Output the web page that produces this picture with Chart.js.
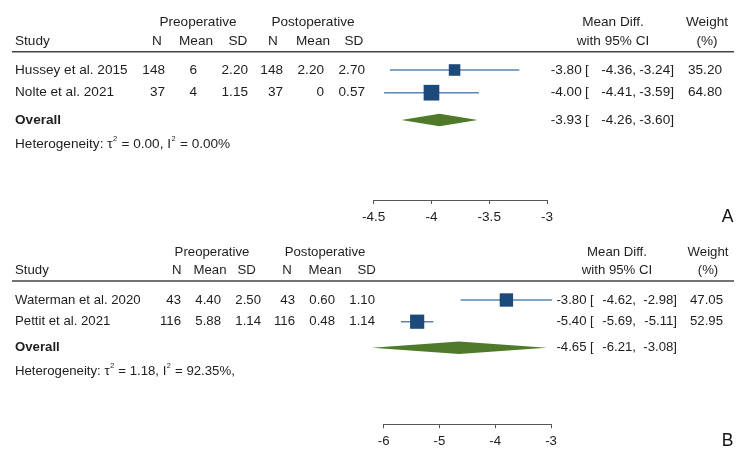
<!DOCTYPE html>
<html>
<head>
<meta charset="utf-8">
<script src="https://cdn.jsdelivr.net/npm/chart.js@4/dist/chart.umd.min.js"></script>
<style>
html,body{margin:0;padding:0;background:#fff;}
body{width:750px;height:464px;position:relative;overflow:hidden;}
canvas{position:absolute;left:0;}
</style>
</head>
<body>
<canvas id="cA" width="750" height="232" style="top:0"></canvas>
<canvas id="cB" width="750" height="232" style="top:232px"></canvas>
<script>
// ---------- Panel A data ----------
const studiesA = ["Hussey et al. 2015", "Nolte et al. 2021"];
const preNA = [148, 37];
const preMeanA = [6, 4];
const preSDA = [2.20, 1.15];
const postNA = [148, 37];
const postMeanA = [2.20, 0];
const postSDA = [2.70, 0.57];
const mdA = [-3.80, -4.00];
const loA = [-4.36, -4.41];
const hiA = [-3.24, -3.59];
const weightA = [35.20, 64.80];
const overallA = [-3.93, -4.26, -3.60]; // estimate, lower, upper
const tau2A = 0.00;
const i2A = 0.00;
const ticksA = [-4.5, -4, -3.5, -3];

// ---------- Panel B data ----------
const studiesB = ["Waterman et al. 2020", "Pettit et al. 2021"];
const preNB = [43, 116];
const preMeanB = [4.40, 5.88];
const preSDB = [2.50, 1.14];
const postNB = [43, 116];
const postMeanB = [0.60, 0.48];
const postSDB = [1.10, 1.14];
const mdB = [-3.80, -5.40];
const loB = [-4.62, -5.69];
const hiB = [-2.98, -5.11];
const weightB = [47.05, 52.95];
const overallB = [-4.65, -6.21, -3.08];
const tau2B = 1.18;
const i2B = 92.35;
const ticksB = [-6, -5, -4, -3];

// ---------- layout (pixels, styles) ----------
const FAMILY = "'Liberation Sans', Arial, sans-serif";
const TEXT = '#1e1e1e';
const SQUARE = '#1c4a7a';
const CILINE = '#5a86b3';
const DIAMOND = '#4e7a2a';
const AXIS_H = 24;

const layoutA = {
  font: 13.6, padTop: 47.3, padBottom: 8, axL: 373.7, axR: 547, yMax: 6.727,
  hdr1: 22.7, hdr2: 41.7, rule: 51.7, hetSuffix: '',
  study: 15,
  preN: [157, 165], preMean: [196, 197], preSD: [238, 248],
  postN: [273, 283], postMean: [313, 324], postSD: [354, 365],
  preHdr: 198, postHdr: 313,
  estR: 581.7, brL: 585, loR: 636, hiR: 674, mdHdr: 613,
  wR: 722, wHdr: 707,
  label: 'A', labelX: 727.5, labelY: 216.7
};
const layoutB = {
  font: 13.2, padTop: 46.3, padBottom: 15.7, axL: 383.7, axR: 551, yMax: 6.73,
  hdr1: 20.7, hdr2: 38.7, rule: 49, hetSuffix: ',',
  study: 15,
  preN: [176.7, 181], preMean: [210, 221], preSD: [246.7, 261],
  postN: [287, 295], postMean: [325, 335], postSD: [366.7, 375],
  preHdr: 212, postHdr: 325,
  estR: 586.5, brL: 590, loR: 636, hiR: 677, mdHdr: 617,
  wR: 723, wHdr: 708,
  label: 'B', labelX: 727.5, labelY: 209
};
const ROWS = [1, 2];
const OVERALL_ROW = 3.2;
const HET_ROW = 4.28;

function fmtVal(v) { return Number.isInteger(v) ? String(v) : v.toFixed(2); }

function makePanel(canvasId, L, d) {
  const squareData = d.md.map((m, i) => ({x: m, y: ROWS[i]}));
  const datasets = [{
    label: 'squares',
    data: squareData,
    pointStyle: 'rect',
    pointRadius: d.weight.map(w => 1.95 * Math.sqrt(w) / Math.SQRT2),
    pointBackgroundColor: SQUARE,
    pointBorderColor: SQUARE,
    pointBorderWidth: 0,
    showLine: false,
    clip: false
  }];
  d.lo.forEach((lo, i) => {
    datasets.push({
      label: 'ci' + i,
      data: [{x: lo, y: ROWS[i]}, {x: d.hi[i], y: ROWS[i]}],
      showLine: true,
      borderColor: CILINE,
      borderWidth: 1.4,
      pointRadius: 0,
      clip: false
    });
  });

  const textPlugin = {
    id: 'forestText',
    afterDatasetsDraw(chart) {
      const ctx = chart.ctx;
      const xs = chart.scales.x, ys = chart.scales.y;
      // overall diamond
      const yc = ys.getPixelForValue(OVERALL_ROW);
      ctx.save();
      ctx.fillStyle = DIAMOND;
      ctx.beginPath();
      ctx.moveTo(xs.getPixelForValue(d.overall[1]), yc);
      ctx.lineTo(xs.getPixelForValue(d.overall[0]), yc - 6.2);
      ctx.lineTo(xs.getPixelForValue(d.overall[2]), yc);
      ctx.lineTo(xs.getPixelForValue(d.overall[0]), yc + 6.2);
      ctx.closePath();
      ctx.fill();
      ctx.restore();
    },
    afterDraw(chart) {
      const ctx = chart.ctx;
      const ys = chart.scales.y;
      const f = L.font;
      const norm = f + 'px ' + FAMILY;
      ctx.save();
      ctx.fillStyle = TEXT;
      ctx.textBaseline = 'middle';
      ctx.font = norm;
      function t(s, x, y, align) { ctx.textAlign = align; ctx.fillText(s, x, y); }
      // header
      t('Preoperative', L.preHdr, L.hdr1, 'center');
      t('Postoperative', L.postHdr, L.hdr1, 'center');
      t('Mean Diff.', L.mdHdr, L.hdr1, 'center');
      t('Weight', L.wHdr, L.hdr1, 'center');
      t('Study', L.study, L.hdr2, 'left');
      t('N', L.preN[0], L.hdr2, 'center');
      t('Mean', L.preMean[0], L.hdr2, 'center');
      t('SD', L.preSD[0], L.hdr2, 'center');
      t('N', L.postN[0], L.hdr2, 'center');
      t('Mean', L.postMean[0], L.hdr2, 'center');
      t('SD', L.postSD[0], L.hdr2, 'center');
      t('with 95% CI', L.mdHdr, L.hdr2, 'center');
      t('(%)', L.wHdr, L.hdr2, 'center');
      // rule
      ctx.strokeStyle = '#444';
      ctx.lineWidth = 1.5;
      ctx.beginPath();
      ctx.moveTo(12, L.rule);
      ctx.lineTo(734, L.rule);
      ctx.stroke();
      // study rows
      d.studies.forEach((s, i) => {
        const y = ys.getPixelForValue(ROWS[i]);
        t(s, L.study, y, 'left');
        t(String(d.preN[i]), L.preN[1], y, 'right');
        t(fmtVal(d.preMean[i]), L.preMean[1], y, 'right');
        t(d.preSD[i].toFixed(2), L.preSD[1], y, 'right');
        t(String(d.postN[i]), L.postN[1], y, 'right');
        t(fmtVal(d.postMean[i]), L.postMean[1], y, 'right');
        t(d.postSD[i].toFixed(2), L.postSD[1], y, 'right');
        t(d.md[i].toFixed(2), L.estR, y, 'right');
        t('[', L.brL, y, 'left');
        t(d.lo[i].toFixed(2) + ',', L.loR, y, 'right');
        t(d.hi[i].toFixed(2) + ']', L.hiR, y, 'right');
        t(d.weight[i].toFixed(2), L.wR, y, 'right');
      });
      // overall row
      const yo = ys.getPixelForValue(OVERALL_ROW);
      t(d.overall[0].toFixed(2), L.estR, yo, 'right');
      t('[', L.brL, yo, 'left');
      t(d.overall[1].toFixed(2) + ',', L.loR, yo, 'right');
      t(d.overall[2].toFixed(2) + ']', L.hiR, yo, 'right');
      ctx.font = 'bold ' + norm;
      t('Overall', L.study, yo, 'left');
      // heterogeneity with superscripts
      const yh = ys.getPixelForValue(HET_ROW);
      const parts = [
        ['Heterogeneity: \u03c4', false],
        ['2', true],
        [' = ' + d.tau2.toFixed(2) + ', I', false],
        ['2', true],
        [' = ' + d.i2.toFixed(2) + '%' + L.hetSuffix, false]
      ];
      let x = L.study;
      ctx.textAlign = 'left';
      parts.forEach(([s, sup]) => {
        ctx.font = sup ? (f * 0.55) + 'px ' + FAMILY : norm;
        const yy = sup ? yh - f * 0.38 : yh;
        ctx.fillText(s, sup ? x + 0.5 : x, yy);
        x += ctx.measureText(s).width + (sup ? 1 : 0);
      });
      // panel letter
      ctx.font = '17.5px ' + FAMILY;
      ctx.fillStyle = '#111';
      t(L.label, L.labelX, L.labelY, 'center');
      ctx.restore();
    }
  };

  return new Chart(document.getElementById(canvasId), {
    type: 'scatter',
    data: {datasets},
    options: {
      responsive: false,
      animation: false,
      devicePixelRatio: 1,
      events: [],
      layout: {padding: {left: L.axL, right: 750 - L.axR, top: L.padTop, bottom: L.padBottom}},
      plugins: {legend: {display: false}, tooltip: {enabled: false}},
      scales: {
        x: {
          type: 'linear',
          min: d.ticks[0],
          max: d.ticks[d.ticks.length - 1],
          afterBuildTicks: s => { s.ticks = d.ticks.map(v => ({value: v})); },
          afterFit: s => { s.height = AXIS_H; },
          ticks: {
            callback: v => String(v),
            color: TEXT,
            font: {family: FAMILY, size: L.font},
            padding: 5,
            maxRotation: 0,
            autoSkip: false
          },
          grid: {display: true, drawOnChartArea: false, drawTicks: true, tickLength: 4, color: '#555', lineWidth: 1},
          border: {display: true, color: '#555', width: 1}
        },
        y: {
          type: 'linear',
          display: false,
          reverse: true,
          min: 0,
          max: L.yMax
        }
      }
    },
    plugins: [textPlugin]
  });
}

makePanel('cA', layoutA, {
  studies: studiesA, preN: preNA, preMean: preMeanA, preSD: preSDA,
  postN: postNA, postMean: postMeanA, postSD: postSDA,
  md: mdA, lo: loA, hi: hiA, weight: weightA, overall: overallA,
  tau2: tau2A, i2: i2A, ticks: ticksA
});
makePanel('cB', layoutB, {
  studies: studiesB, preN: preNB, preMean: preMeanB, preSD: preSDB,
  postN: postNB, postMean: postMeanB, postSD: postSDB,
  md: mdB, lo: loB, hi: hiB, weight: weightB, overall: overallB,
  tau2: tau2B, i2: i2B, ticks: ticksB
});
</script>
</body>
</html>
